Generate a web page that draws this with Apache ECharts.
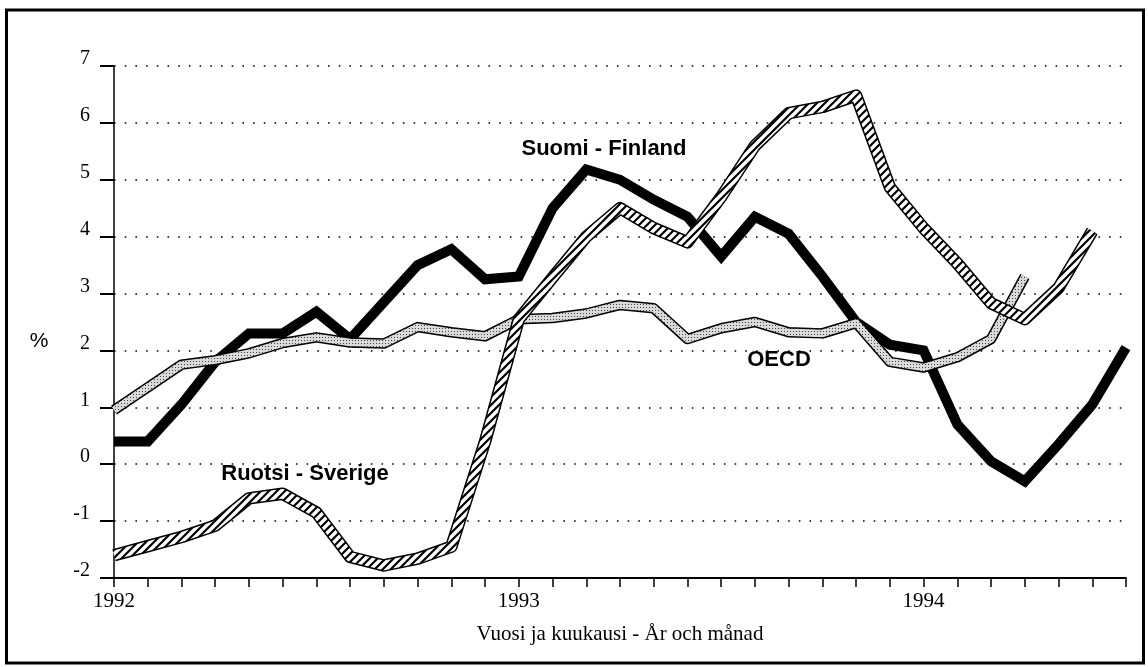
<!DOCTYPE html>
<html>
<head>
<meta charset="utf-8">
<script src="https://cdn.jsdelivr.net/npm/echarts@6/dist/echarts.min.js"></script>
<style>html,body{margin:0;padding:0;background:#fff}#c{width:1148px;height:667px}</style>
</head>
<body>
<div id="c"></div>
<script>
const months = ['1992-01','1992-02','1992-03','1992-04','1992-05','1992-06','1992-07','1992-08','1992-09','1992-10','1992-11','1992-12',
  '1993-01','1993-02','1993-03','1993-04','1993-05','1993-06','1993-07','1993-08','1993-09','1993-10','1993-11','1993-12',
  '1994-01','1994-02','1994-03','1994-04','1994-05','1994-06','1994-07'];
const finland = [0.4, 0.4, 1.05, 1.8, 2.3, 2.3, 2.68, 2.2, 2.85, 3.5, 3.78, 3.25, 3.3, 4.5, 5.18, 5.0, 4.65, 4.35, 3.65, 4.35, 4.05, 3.3, 2.5, 2.1, 2.0, 0.7, 0.05, -0.3, 0.35, 1.05, 2.05];
const oecd = [0.95, 1.35, 1.75, 1.83, 1.95, 2.13, 2.23, 2.14, 2.12, 2.41, 2.32, 2.25, 2.55, 2.57, 2.65, 2.8, 2.74, 2.2, 2.39, 2.5, 2.32, 2.3, 2.48, 1.8, 1.7, 1.88, 2.2, 3.3];
const sweden = [-1.6, -1.44, -1.28, -1.08, -0.6, -0.52, -0.85, -1.63, -1.78, -1.66, -1.45, 0.4, 2.55, 3.28, 4.0, 4.5, 4.15, 3.9, 4.7, 5.6, 6.17, 6.28, 6.48, 4.87, 4.15, 3.53, 2.83, 2.55, 3.1, 4.1];
const yTicks = [-2, -1, 0, 1, 2, 3, 4, 5, 6, 7];
const yearLabels = ['1992', '1993', '1994'];

function hatchPattern() {
  const s = 8, c = document.createElement('canvas');
  c.width = s; c.height = s;
  const g = c.getContext('2d');
  g.fillStyle = '#fff'; g.fillRect(0, 0, s, s);
  g.strokeStyle = '#000'; g.lineWidth = 2.2;
  g.beginPath();
  g.moveTo(0, s); g.lineTo(s, 0);
  g.moveTo(-2, 2); g.lineTo(2, -2);
  g.moveTo(s - 2, s + 2); g.lineTo(s + 2, s - 2);
  g.stroke();
  return c;
}
function stipplePattern() {
  const c = document.createElement('canvas');
  c.width = 3; c.height = 3;
  const g = c.getContext('2d');
  g.fillStyle = '#dadada'; g.fillRect(0, 0, 3, 3);
  g.fillStyle = '#444'; g.fillRect(1, 1, 1, 1);
  return c;
}

const chart = echarts.init(document.getElementById('c'), null, {renderer: 'canvas'});
const serif = 'Liberation Serif, Times New Roman, serif';
const sans = 'Liberation Sans, Arial, sans-serif';
chart.setOption({
  animation: false,
  backgroundColor: '#fff',
  grid: {left: 114, right: 22, top: 66, bottom: 89, containLabel: false},
  xAxis: {
    type: 'category', data: months, boundaryGap: false,
    axisLine: {onZero: false, lineStyle: {color: '#000', width: 1.8}},
    axisTick: {show: true, interval: 0, length: 9, inside: false, lineStyle: {color: '#000', width: 1.5}},
    axisLabel: {
      interval: 0, margin: 13, color: '#000', fontFamily: serif, fontSize: 21,
      formatter: v => v.endsWith('-01') && yearLabels.includes(v.slice(0, 4)) ? v.slice(0, 4) : ''
    },
    splitLine: {show: false},
    name: 'Vuosi ja kuukausi - År och månad', nameLocation: 'middle', nameGap: 46,
    nameTextStyle: {color: '#000', fontFamily: serif, fontSize: 21}
  },
  yAxis: {
    type: 'value', min: -2, max: 7, interval: 1,
    axisLine: {show: true, lineStyle: {color: '#000', width: 1.5}},
    axisTick: {show: true, length: 14, lineStyle: {color: '#000', width: 2}},
    axisLabel: {
      margin: 24, color: '#000', fontFamily: serif, fontSize: 20,
      verticalAlign: 'bottom', lineHeight: 14,
      formatter: v => yTicks.includes(v) ? String(v) : ''
    },
    splitLine: {show: true, lineStyle: {color: '#000', width: 1.6, type: [1.6, 9.1]}}
  },
  graphic: [
    {type: 'rect', shape: {x: 6.5, y: 10, width: 1137, height: 653}, style: {fill: 'none', stroke: '#000', lineWidth: 3}, silent: true},
    {type: 'text', x: 39, y: 341, style: {text: '%', font: '21px ' + sans, fill: '#000', textAlign: 'center', textVerticalAlign: 'middle'}},
    {type: 'text', x: 604, y: 149, z: 10, style: {text: 'Suomi - Finland', font: 'bold 22px ' + sans, fill: '#000', textAlign: 'center', textVerticalAlign: 'middle'}},
    {type: 'text', x: 305, y: 474, z: 10, style: {text: 'Ruotsi - Sverige', font: 'bold 22px ' + sans, fill: '#000', textAlign: 'center', textVerticalAlign: 'middle'}},
    {type: 'text', x: 779, y: 360, z: 10, style: {text: 'OECD', font: 'bold 22px ' + sans, fill: '#000', textAlign: 'center', textVerticalAlign: 'middle'}}
  ],
  series: [
    {name: 'Suomi - Finland', type: 'line', data: finland, symbol: 'none', z: 2,
      lineStyle: {color: '#000', width: 10, join: 'miter', miterLimit: 3, cap: 'butt'}},
    {name: 'OECD', type: 'line', data: oecd, symbol: 'none', z: 3,
      lineStyle: {color: '#000', width: 10.5, join: 'round'}},
    {name: 'OECD fill', type: 'line', data: oecd, symbol: 'none', z: 4,
      lineStyle: {color: {image: stipplePattern(), repeat: 'repeat'}, width: 7.5, join: 'round'}},
    {name: 'Ruotsi - Sverige', type: 'line', data: sweden, symbol: 'none', z: 5,
      lineStyle: {color: '#000', width: 12.5, join: 'round'}},
    {name: 'Ruotsi fill', type: 'line', data: sweden, symbol: 'none', z: 6,
      lineStyle: {color: {image: hatchPattern(), repeat: 'repeat'}, width: 9.5, join: 'round'}}
  ]
});
</script>
</body>
</html>
